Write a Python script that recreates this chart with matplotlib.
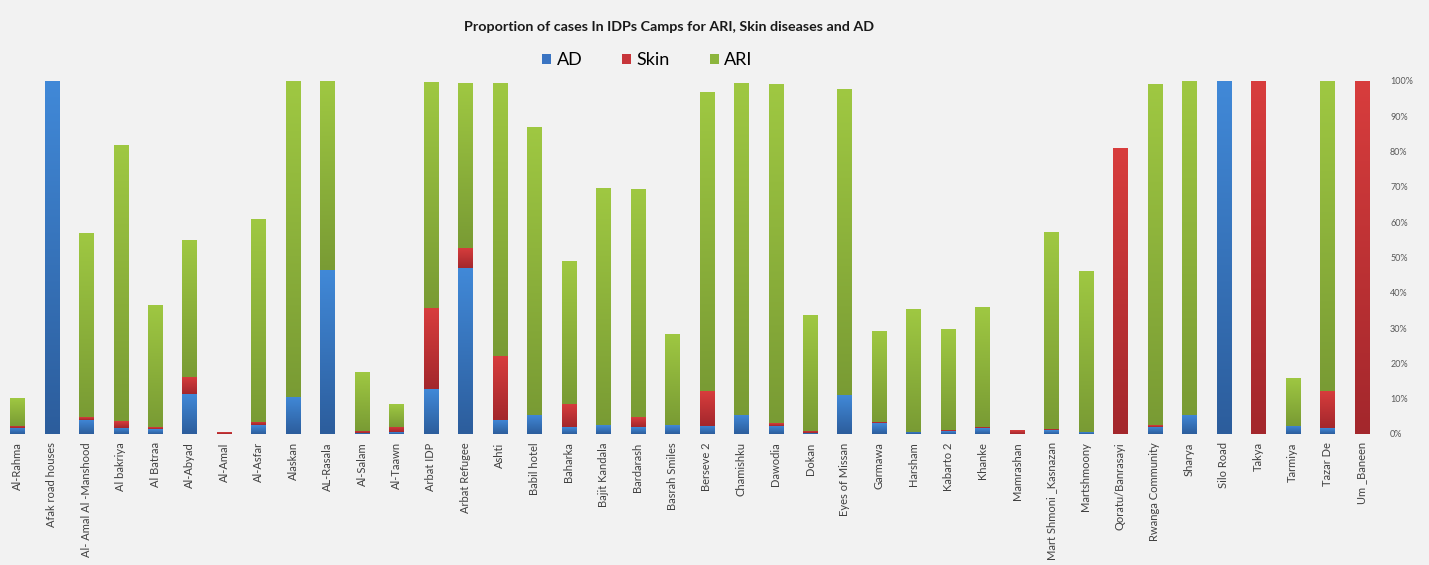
import matplotlib
matplotlib.use("Agg")
import matplotlib.pyplot as plt
import numpy as np
from matplotlib.ticker import PercentFormatter
from matplotlib.colors import LinearSegmentedColormap

camps = ["Al-Rahma", "Afak road houses", "Al- Amal Al -Manshood", "Al bakriya", "Al Batraa",
         "Al-Abyad", "Al-Amal", "Al-Asfar", "Alaskan", "AL-Rasala", "Al-Salam", "Al-Taawn",
         "Arbat IDP", "Arbat Refugee", "Ashti", "Babil hotel", "Baharka", "Bajit Kandala",
         "Bardarash", "Basrah Smiles", "Berseve 2", "Chamishku", "Dawodia", "Dokan",
         "Eyes of Missan", "Garmawa", "Harsham", "Kabarto 2", "Khanke", "Mamrashan",
         "Mart Shmoni _Kasnazan", "Martshmoony", "Qoratu/Banrasayi", "Rwanga Community",
         "Sharya", "Silo Road", "Takya", "Tarmiya", "Tazar De", "Um _Baneen"]

ad = [1.7, 100, 4.0, 1.8, 1.4, 11.3, 0.0, 2.5, 10.6, 46.5, 0.3, 0.5,
      12.7, 47.0, 4.0, 5.4, 1.9, 2.5, 1.9, 2.5, 2.3, 5.4, 2.4, 0.3,
      11.0, 3.0, 0.6, 0.8, 1.6, 0.0, 1.0, 0.5, 0.0, 2.1, 5.4, 100, 0.0, 2.3, 1.6, 0.0]
skin = [0.7, 0.0, 0.8, 1.8, 0.5, 4.9, 0.5, 1.0, 0.0, 0.0, 0.6, 1.6,
        22.9, 5.7, 18.2, 0.0, 6.6, 0.0, 2.8, 0.0, 9.9, 0.0, 0.6, 0.6,
        0.0, 0.3, 0.0, 0.4, 0.5, 1.1, 0.4, 0.0, 81.0, 0.4, 0.0, 0.0, 100, 0.0, 10.6, 100]
ari = [7.8, 0.0, 52.2, 78.2, 34.6, 38.8, 0.0, 57.5, 89.4, 53.5, 16.7, 6.4,
       64.1, 46.6, 77.1, 81.6, 40.5, 67.3, 64.6, 25.8, 84.8, 94.1, 96.0, 32.8,
       86.6, 26.0, 34.8, 28.5, 33.8, 0.0, 55.9, 45.8, 0.0, 96.7, 94.6, 0.0, 0.0, 13.6, 87.8, 0.0]

# name, values, legend colour, gradient (bottom, top)
series = [("AD", ad, "#3a74c2", ("#2c5d9c", "#4189d8")),
          ("Skin", skin, "#c7353a", ("#a3272c", "#d83d3d")),
          ("ARI", ari, "#8cb53d", ("#799b34", "#9fc842"))]

bg = "#f2f2f2"
fig = plt.figure(figsize=(14.29, 5.65), dpi=100, facecolor=bg)
ax = fig.add_axes([0.0, 0.2319, 0.965, 0.6248], facecolor=bg)

x = np.arange(len(camps))
bottom = np.zeros(len(camps))
handles = []
grad = np.linspace(0, 1, 256).reshape(-1, 1)
for name, vals, col, (c0, c1) in series:
    v = np.array(vals) / 100.0
    bars = ax.bar(x, v, width=0.415, bottom=bottom, color=col, label=name, linewidth=0)
    cmap = LinearSegmentedColormap.from_list(name, [c0, c1])
    for b in bars:
        if b.get_height() <= 0:
            continue
        bx, by = b.get_x(), b.get_y()
        w, h = b.get_width(), b.get_height()
        im = ax.imshow(grad, cmap=cmap, origin="lower", aspect="auto",
                       extent=(bx, bx + w, by, by + h), zorder=2, interpolation="bilinear")
        im.set_clip_path(b)
    handles.append(bars)
    bottom += v

ax.set_xlim(-0.5, len(camps) - 0.5)
ax.set_ylim(0, 1.0)
ax.yaxis.tick_right()
ax.set_yticks(np.arange(0, 1.01, 0.1))
ax.yaxis.set_major_formatter(PercentFormatter(1.0, decimals=0))
ax.tick_params(axis="y", length=0, pad=8, labelsize=6.5, labelcolor="#595959")
for t in ax.get_yticklabels():
    t.set_family("Lato")
ax.set_xticks(x)
ax.set_xticklabels(camps, rotation=90, fontsize=8, color="#404040", family="Lato")
ax.tick_params(axis="x", length=0, pad=6)
for s in ax.spines.values():
    s.set_visible(False)

fig.text(0.468, 0.952, "Proportion of cases In IDPs Camps for ARI, Skin diseases and AD",
         ha="center", va="center", fontsize=10.3, fontweight="bold", family="Lato", color="#1a1a1a")
fig.legend(handles=handles, labels=[s[0] for s in series], loc="center",
           bbox_to_anchor=(0.453, 0.893), ncol=3, frameon=False,
           handlelength=0.5, handleheight=0.5, handletextpad=0.3, columnspacing=2.2,
           prop={"family": "Lato", "size": 13})

fig.savefig("out.png", dpi=100, facecolor=bg)
